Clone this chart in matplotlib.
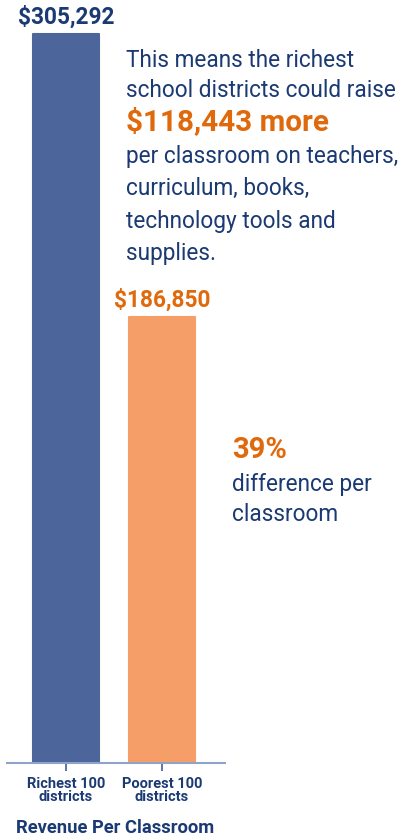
import matplotlib.pyplot as plt

plt.rcParams['font.family'] = ['Roboto', 'DejaVu Sans']

groups = ["Richest 100\ndistricts", "Poorest 100\ndistricts"]
revenue = [305292, 186850]
value_labels = ["$305,292", "$186,850"]
bar_colors = ["#4C659B", "#F59E68"]
label_colors = ["#1B3A73", "#E0690B"]

note_top = ["This means the richest", "school districts could raise"]
note_big = "$118,443 more"
note_bottom = ["per classroom on teachers,", "curriculum, books,",
               "technology tools and", "supplies."]
diff_big = "39%"
diff_lines = ["difference per", "classroom"]

NAVY = "#1B3A73"
ORANGE = "#E0690B"

fig = plt.figure(figsize=(4.12, 8.36), dpi=100)
W, H = 412, 836


def fy(px):
    # pixel row (from top) -> figure fraction
    return 1 - px / H


# axes: x from 7 to 225 px, baseline at 763 px, top at 0
ax = fig.add_axes([7 / W, (H - 763) / H, 218 / W, 763 / H])
ymax = revenue[0] * 763 / 729
xs = [0, 1]
# thin same-colour edge with round joins gives the slightly rounded corners
ax.bar(xs, revenue, width=0.68, color=bar_colors, edgecolor=bar_colors,
       linewidth=1.5, joinstyle="round", zorder=2)
ax.set_xlim((7 - 66) / 96, (225 - 66) / 96)
ax.set_ylim(0, ymax)

for x, v, lab, c in zip(xs, revenue, value_labels, label_colors):
    ax.annotate(lab, (x, v), xytext=(0, 7), textcoords="offset points",
                ha="center", va="baseline", fontsize=16.3,
                fontweight="bold", color=c)

for s in ["top", "right", "left"]:
    ax.spines[s].set_visible(False)
ax.spines["bottom"].set_color("#8EA3C7")
ax.spines["bottom"].set_linewidth(1.5)
ax.spines["bottom"].set_zorder(3)
ax.set_yticks([])
ax.set_xticks(xs)
ax.set_xticklabels(groups, fontsize=10.5, fontweight="bold", color=NAVY,
                   linespacing=0.95)
ax.tick_params(axis="x", length=6, width=1.2, color="#3F5E97", pad=4)
ax.patch.set_alpha(0)

fig.text(115 / W, fy(833), "Revenue Per Classroom", ha="center",
         va="baseline", fontsize=13.2, fontweight="bold", color=NAVY)

# annotation block next to the bars
for line, base in zip(note_top, [67, 97]):
    fig.text(126 / W, fy(base), line, ha="left", va="baseline",
             fontsize=16.3, color=NAVY)
fig.text(126 / W, fy(130), note_big, ha="left", va="baseline",
         fontsize=21.3, fontweight="bold", color=ORANGE)
for line, base in zip(note_bottom, [163, 195, 228, 260]):
    fig.text(126 / W, fy(base), line, ha="left", va="baseline",
             fontsize=16.3, color=NAVY)

fig.text(232 / W, fy(458), diff_big, ha="left", va="baseline",
         fontsize=21, fontweight="bold", color=ORANGE)
for line, base in zip(diff_lines, [491, 521]):
    fig.text(232 / W, fy(base), line, ha="left", va="baseline",
             fontsize=16.3, color=NAVY)

fig.savefig("out.png", dpi=100)
